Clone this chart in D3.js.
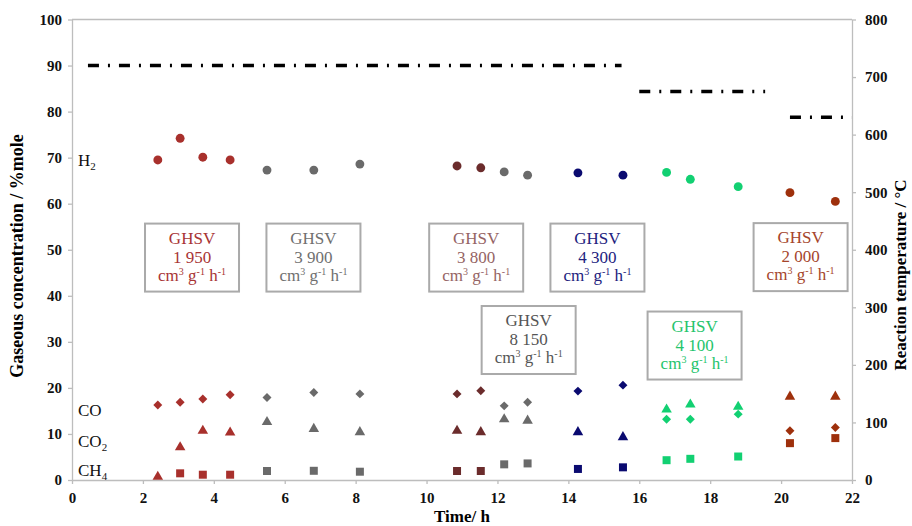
<!DOCTYPE html>
<html>
<head>
<meta charset="utf-8">
<script src="https://cdn.jsdelivr.net/npm/d3@7"></script>
<style>
body{margin:0;background:#fff;}
svg{display:block;font-family:"Liberation Serif","Times New Roman",serif;}
.axis path,.axis line{stroke:#bdbdbd;stroke-width:1.3;}
.axis text{font-size:15px;font-weight:bold;fill:#111;font-family:"Liberation Serif",serif;}
</style>
</head>
<body>
<div class="chart"></div>
<script>
// run times (h) and which GHSV step each run belongs to
const time  = [2.42,3.05,3.69,4.46, 5.50,6.82,8.12, 10.86,11.53, 12.19,12.85, 14.27,15.54, 16.77,17.44,18.79, 20.25,21.53];
const step  = [0,0,0,0, 1,1,1, 2,2, 3,3, 4,4, 5,5,5, 6,6];
const h2    = [69.5,74.2,70.1,69.5, 67.3,67.3,68.6, 68.2,67.8, 66.9,66.2, 66.7,66.2, 66.8,65.3,63.7, 62.4,60.5];
const co    = [16.3,16.9,17.6,18.5, 17.9,19.0,18.7, 18.7,19.4, 16.1,16.9, 19.3,20.6, 13.2,13.2,14.3, 10.7,11.4];
const co2   = [0.7,7.1,10.7,10.3, 12.6,11.1,10.4, 10.7,10.4, 13.2,12.9, 10.4,9.3, 15.3,16.4,15.9, 18.1,18.1];
const ch4   = [null,1.45,1.15,1.15, 1.95,2.0,1.8, 1.95,1.95, 3.4,3.6, 2.4,2.75, 4.3,4.6,5.1, 8.0,9.1];

// GHSV boxes
const ghsv  = ['1 950','3 900','3 800','8 150','4 300','4 100','2 000'];
const boxT  = [3.385, 6.81, 11.40, 12.88, 14.82, 17.56, 20.55];
const boxV  = [48.3, 48.3, 48.3, 30.4, 48.3, 29.2, 48.4];
const markColor = ['#a8302c','#6a6a6a','#6b2c2c','#6a6a6a','#0a0a70','#12d072','#9e300c'];
const textColor = ['#a83434','#707070','#956464','#555555','#22227e','#24c46c','#a5452c'];

// reaction temperature steps (°C)
const tempStart = [0.45, 16.0, 20.25];
const tempEnd   = [15.5, 19.55, 22];
const tempVal   = [720, 675, 630];

const xTicks = d3.range(0, 23, 2);
const yTicks = d3.range(0, 101, 10);
const rTicks = d3.range(0, 801, 100);

const W = 912, H = 526;
const svg = d3.select('.chart').append('svg').attr('width', W).attr('height', H);

const x  = d3.scaleLinear().domain([0,22]).range([72,852]);
const y  = d3.scaleLinear().domain([0,100]).range([480,19.5]);
const yT = d3.scaleLinear().domain([0,800]).range([480,19.5]);

// top frame line
svg.append('line')
  .attr('x1', x(0)).attr('x2', x(22)).attr('y1', y(100)).attr('y2', y(100))
  .attr('stroke','#bdbdbd').attr('stroke-width',1.3);

svg.append('g').attr('class','axis')
  .attr('transform', `translate(${x(0)},0)`)
  .call(d3.axisLeft(y).tickValues(yTicks).tickSize(4).tickPadding(6).tickSizeOuter(0));

svg.append('g').attr('class','axis')
  .attr('transform', `translate(${x(22)},0)`)
  .call(d3.axisRight(yT).tickValues(rTicks).tickSize(4).tickPadding(9).tickSizeOuter(0));

svg.append('g').attr('class','axis')
  .attr('transform', `translate(0,${y(0)})`)
  .call(d3.axisBottom(x).tickValues(xTicks).tickSize(4).tickPadding(8).tickSizeOuter(0));

// axis titles
svg.append('text')
  .attr('transform','translate(23,256) rotate(-90)')
  .attr('text-anchor','middle').attr('font-size',18).attr('font-weight','bold')
  .text('Gaseous concentration / %mole');
svg.append('text')
  .attr('transform','translate(906,275) rotate(-90)')
  .attr('text-anchor','middle').attr('font-size',17).attr('font-weight','bold')
  .text('Reaction temperature / °C');
svg.append('text')
  .attr('x', 462).attr('y', 522)
  .attr('text-anchor','middle').attr('font-size',17).attr('font-weight','bold')
  .text('Time/ h');

// temperature lines
svg.selectAll('line.temp')
  .data(tempVal)
  .enter()
  .append('line')
  .attr('class','temp')
  .attr('x1',(d,i)=>x(tempStart[i]))
  .attr('x2',(d,i)=>x(tempEnd[i]))
  .attr('y1',d=>yT(d))
  .attr('y2',d=>yT(d))
  .attr('stroke','#000')
  .attr('stroke-width',3.5)
  .attr('stroke-dasharray','11,9,2,9');

// GHSV boxes
const bw = 94, bh = 68;
const box = svg.selectAll('g.box')
  .data(ghsv)
  .enter()
  .append('g')
  .attr('class','box')
  .attr('transform',(d,i)=>`translate(${x(boxT[i])},${y(boxV[i])})`);

box.append('rect')
  .attr('x',-bw/2).attr('y',-bh/2)
  .attr('width',bw).attr('height',bh)
  .attr('fill','#fff').attr('stroke','#aaaaaa').attr('stroke-width',2);

box.each(function(d,i){
  const g = d3.select(this);
  const c = textColor[i];
  g.append('text').attr('y',-14).attr('text-anchor','middle').attr('font-size',17).attr('fill',c).text('GHSV');
  g.append('text').attr('y',5).attr('text-anchor','middle').attr('font-size',17).attr('fill',c).text(d);
  const u = g.append('text').attr('y',23).attr('text-anchor','middle').attr('font-size',17).attr('fill',c);
  u.append('tspan').text('cm');
  u.append('tspan').attr('font-size',10).attr('dy',-6).text('3');
  u.append('tspan').attr('dy',6).text(' g');
  u.append('tspan').attr('font-size',10).attr('dy',-6).text('-1');
  u.append('tspan').attr('dy',6).text(' h');
  u.append('tspan').attr('font-size',10).attr('dy',-6).text('-1');
});

// markers
function points(vals, type, size, cls, rot){
  const sym = d3.symbol().type(type).size(size);
  svg.selectAll('path.'+cls)
    .data(vals.map((v,i)=>({t:time[i], v:v, s:step[i]})).filter(d=>d.v!=null))
    .enter()
    .append('path')
    .attr('class',cls)
    .attr('d',sym)
    .attr('transform',d=>`translate(${x(d.t)},${y(d.v)})`+(rot?' rotate(45)':''))
    .attr('fill',d=>markColor[d.s]);
}
points(h2, d3.symbolCircle, 62, 'h2');
points(ch4, d3.symbolSquare, 64, 'ch4');
points(co2, d3.symbolTriangle, 48, 'co2');
points(co, d3.symbolSquare, 40, 'co', true);

// series labels
const lab = [['H','2',166],['CO','',416],['CO','2',447],['CH','4',476]];
lab.forEach(l=>{
  const t = svg.append('text').attr('x',78).attr('y',l[2]).attr('font-size',17).attr('fill','#111');
  t.append('tspan').text(l[0]);
  if(l[1]) t.append('tspan').attr('font-size',11).attr('dy',4).text(l[1]);
});
</script>
</body>
</html>
